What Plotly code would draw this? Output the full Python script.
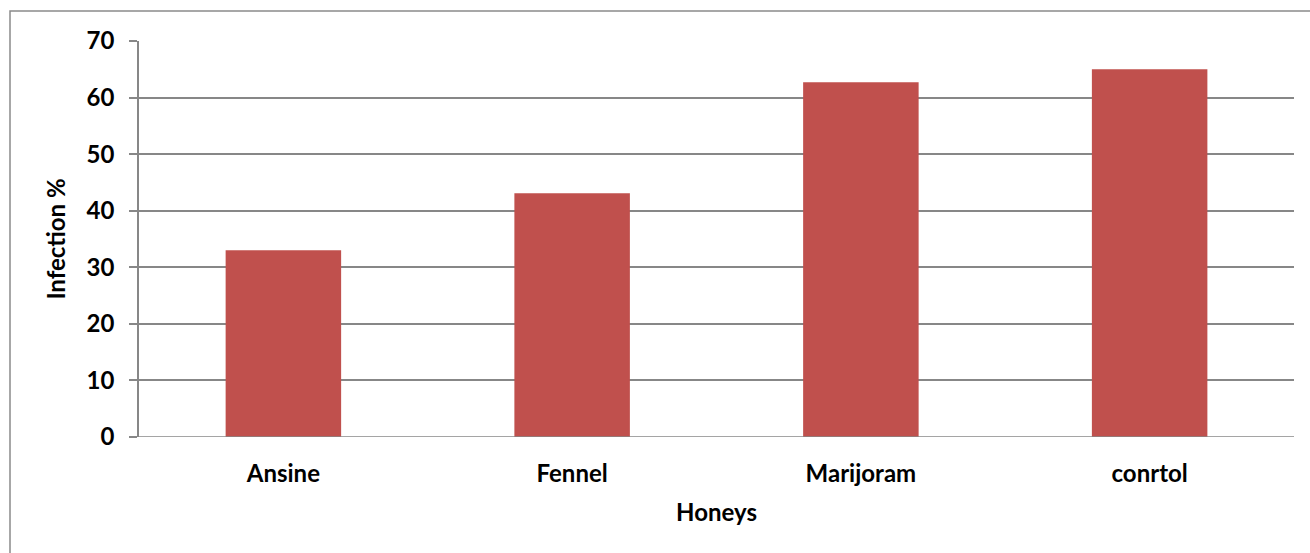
import plotly.graph_objects as go

# Infection rate per honey treatment
honeys = ["Ansine", "Fennel", "Marijoram", "conrtol"]
infection = [33, 43.1, 62.7, 65]
y_ticks = [0, 10, 20, 30, 40, 50, 60, 70]

W, H = 1310, 553
L, R, T, B = 139, 16, 41, 116
pw, ph = W - L - R, H - T - B

FONT = "Lato"
GRID = "#878787"
FS = 24

fig = go.Figure(
    go.Bar(
        x=honeys,
        y=infection,
        marker=dict(color="#C0504D", line=dict(width=0)),
        width=0.4,
    )
)

fig.update_layout(
    width=W,
    height=H,
    margin=dict(l=L, r=R, t=T, b=B),
    plot_bgcolor="white",
    paper_bgcolor="white",
    showlegend=False,
    font=dict(family=FONT, color="black"),
    xaxis=dict(
        range=[-0.5, 3.5],
        showgrid=False,
        showline=False,
        zeroline=False,
        ticks="",
        ticklabelstandoff=20,
        tickfont=dict(family=FONT, size=FS, color="black", weight="bold"),
        title=dict(text="<b>Honeys</b>", font=dict(family=FONT, size=FS), standoff=18),
    ),
    yaxis=dict(
        range=[0, 70],
        tickvals=y_ticks,
        showgrid=True,
        gridcolor=GRID,
        gridwidth=1.5,
        zeroline=False,
        showline=True,
        linecolor=GRID,
        linewidth=1.5,
        ticks="outside",
        ticklen=8,
        tickcolor=GRID,
        tickwidth=1.5,
        ticklabelstandoff=10,
        tickfont=dict(family=FONT, size=FS, color="black", weight="bold"),
        title=dict(text="<b>Infection %</b>", font=dict(family=FONT, size=FS), standoff=14),
    ),
)

# baseline at zero spanning the plot width
fig.add_shape(
    type="line", xref="paper", yref="y", x0=0, x1=1, y0=0, y1=0,
    line=dict(color=GRID, width=1.5), layer="above",
)

# outer chart frame (extends past the right and bottom edges)
fig.add_shape(
    type="rect", xref="paper", yref="paper",
    x0=(10 - L) / pw, x1=(W + 10 - L) / pw,
    y0=-(B + 10) / ph, y1=1 + (T - 11) / ph,
    line=dict(color="#8a8a8a", width=1.5), fillcolor="rgba(0,0,0,0)",
    layer="below",
)

fig.write_html("out.html")
